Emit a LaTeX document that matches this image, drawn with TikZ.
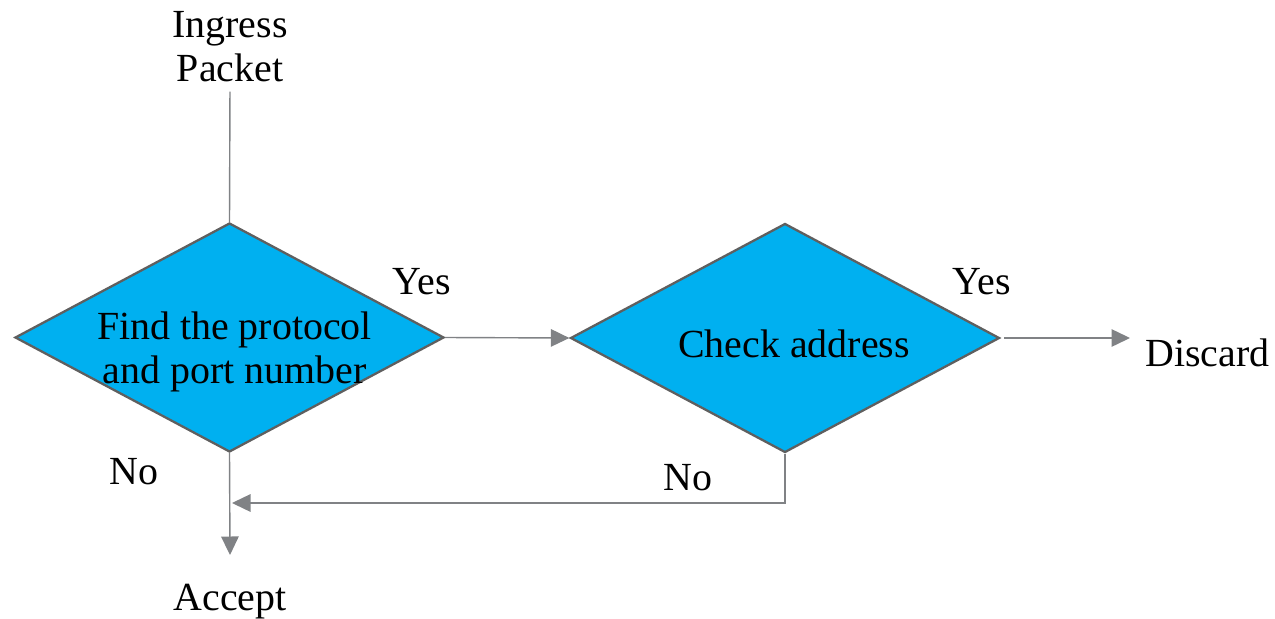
\documentclass[tikz,border=0pt]{standalone}
\usepackage{fontspec}
\setmainfont{Liberation Serif}
\usepackage{xcolor}
\usetikzlibrary{arrows.meta, shapes.geometric, positioning}

\definecolor{decfill}{HTML}{00B0F0}
\definecolor{decline}{HTML}{5F5F5F}
\definecolor{flowline}{HTML}{808285}

\tikzset{
    decision/.style={diamond, draw=decline, line width=1.3pt, fill=decfill,
        aspect=1.873, minimum width=8.58cm, minimum height=4.58cm, inner sep=0pt},
    flow/.style={color=flowline, line width=0.8pt},
    tip/.style={-{Triangle[length=0.37cm, width=0.35cm]}}
}

\begin{document}
\begin{tikzpicture}[font=\fontsize{22.7pt}{25pt}\selectfont]
    \useasboundingbox (0, 0) rectangle (25.5, -12.36);
    \node (ingress) at (4.6, -0.93) [align=center, inner sep=1pt] {Ingress\\Packet};
    \node (find) at (4.59, -6.75) [decision] {};
    \node (check) at (15.7, -6.76) [decision] {};
    \node (findtext) at ([xshift=0.1cm, yshift=-0.28cm]find.center) [align=center, inner sep=0pt]
        {Find the protocol\\and port number};
    \node (checktext) at ([xshift=0.18cm, yshift=-0.12cm]check.center) [inner sep=0pt]
        {Check address};
    \node (discard) at (24.15, -7.06) {Discard};
    \node (accept) at (4.6, -12.04) {Accept};
    \node (yes1) at (8.44, -5.64) {Yes};
    \node (yes2) at (19.64, -5.64) {Yes};
    \node (no1) at (2.68, -9.44) {No};
    \node (no2) at (13.76, -9.56) {No};
    \coordinate (down) at (4.6, -11.1);
    \coordinate (joint) at (4.64, -10.06);
    \coordinate (corner) at (15.7, -10.06);
    \coordinate (out) at (22.6, -6.76);

    \draw[flow, shorten <=4.5pt] (ingress.south) -- (find.north);
    \draw[flow, tip] (find.east) -- (check.west);
    \draw[flow, tip] ([xshift=2pt]check.east) -- (out);
    \draw[flow, tip] (find.south) -- (down);
    \draw[flow, tip] (check.south) -- (corner) -- (joint);
\end{tikzpicture}
\end{document}
